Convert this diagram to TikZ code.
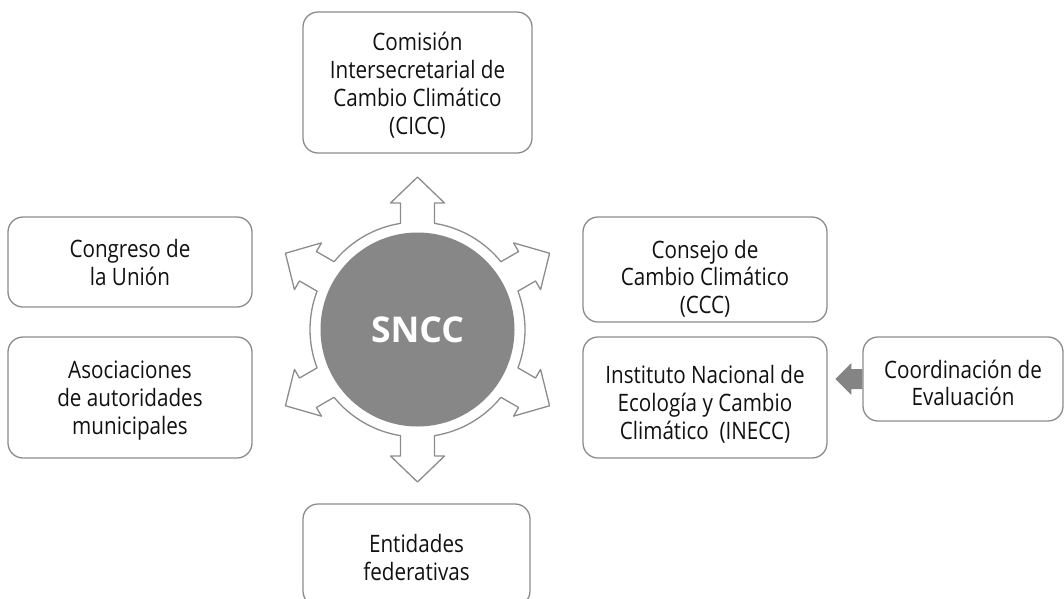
\documentclass[tikz,border=0pt]{standalone}
\usepackage{fontspec}
\setmainfont{Open Sans}[FakeStretch=0.86]
\newfontfamily\sncfont{Open Sans}
\usetikzlibrary{calc}
\definecolor{boxline}{HTML}{8C8C8C}
\definecolor{discgray}{HTML}{878787}
\definecolor{arrowgray}{HTML}{848484}
\definecolor{txt}{HTML}{111111}
\newcommand\mytopstrut{\rule{0pt}{18pt}}
\newcommand\mybotstrut{\rule[-6pt]{0pt}{6pt}}
\begin{document}
\begin{tikzpicture}[x=1pt,y=-1pt,
  box/.style={draw=boxline, line width=1.3pt, rounded corners=15pt, inner sep=0pt},
  boxtext/.style={align=center, text=txt, inner sep=0pt,
    font=\fontsize{24}{27.8}\selectfont},
  ringline/.style={draw=boxline, fill=white, line width=1.3pt, line join=round},
]
\useasboundingbox (0,0) rectangle (1064,598);

% boxes
\node[box, minimum width=229pt, minimum height=141pt] (cicc) at (417.5,82.5) {};
\node[box, minimum width=244pt, minimum height=90pt] (congreso) at (130,262) {};
\node[box, minimum width=244pt, minimum height=121pt] (asoc) at (130,397.5) {};
\node[box, minimum width=244pt, minimum height=105pt] (consejo) at (705,269.5) {};
\node[box, minimum width=244pt, minimum height=121pt] (inecc) at (705,397.5) {};
\node[box, minimum width=200pt, minimum height=84pt] (coord) at (963,379) {};
\node[box, minimum width=227pt, minimum height=102pt] (entidades) at (416.5,555) {};

% box texts
\node[boxtext] (cicc-t) at ($(cicc.center)+(0,3.7)$)
  {\mytopstrut Comisión\\Intersecretarial de\\Cambio Climático\\(CICC)\mybotstrut};
\node[boxtext] (congreso-t) at ($(congreso.center)+(0,3.7)$)
  {\mytopstrut Congreso de\\la Unión\mybotstrut};
\node[boxtext] (asoc-t) at ($(asoc.center)+(0,3.2)$)
  {\mytopstrut Asociaciones\\de autoridades\\municipales\mybotstrut};
\node[boxtext] (consejo-t) at ($(consejo.center)+(0,10.3)$)
  {\mytopstrut Consejo de\\Cambio Climático\\(CCC)\mybotstrut};
\node[boxtext] (inecc-t) at ($(inecc.center)+(0,7.8)$)
  {\mytopstrut Instituto Nacional de\\Ecología y Cambio\\Climático\ \ (INECC)\mybotstrut};
\node[boxtext] (coord-t) at ($(coord.center)+(0,6.7)$)
  {\mytopstrut Coordinación de\\Evaluación\mybotstrut};
\node[boxtext] (entidades-t) at ($(entidades.center)+(0,5.7)$)
  {\mytopstrut Entidades\\federativas\mybotstrut};

% ring of arrows
\begin{scope}[shift={(417.5,329.5)}]
\path[ringline] (20.9:107.5)
  \foreach \a in {30,90,150,210,270,330}{
    -- ({\a-7.65}:127.64) -- ({\a-12.05}:129.35) -- (\a:152.5)
    -- ({\a+12.05}:129.35) -- ({\a+7.65}:127.64) -- ({\a+9.1}:107.5)
    arc[start angle={\a+9.1}, delta angle=41.8, radius=107.5]
  } -- cycle;
\end{scope}

% central disc
\node[circle, fill=discgray, minimum size=194pt, inner sep=0pt, text=white,
  font=\sncfont\fontsize{35.5}{40}\selectfont\bfseries] (sncc) at (417.5,329.5) {SNCC};

% block arrow from Coordinación to INECC
\fill[arrowgray] ($(coord.west)+(0,-10)$) -- ($(coord.west)+(-11,-10)$)
  -- ($(coord.west)+(-11,-16)$) -- ($(coord.west)+(-27,0)$)
  -- ($(coord.west)+(-11,16)$) -- ($(coord.west)+(-11,10)$)
  -- ($(coord.west)+(0,10)$) -- cycle;
\end{tikzpicture}
\end{document}
